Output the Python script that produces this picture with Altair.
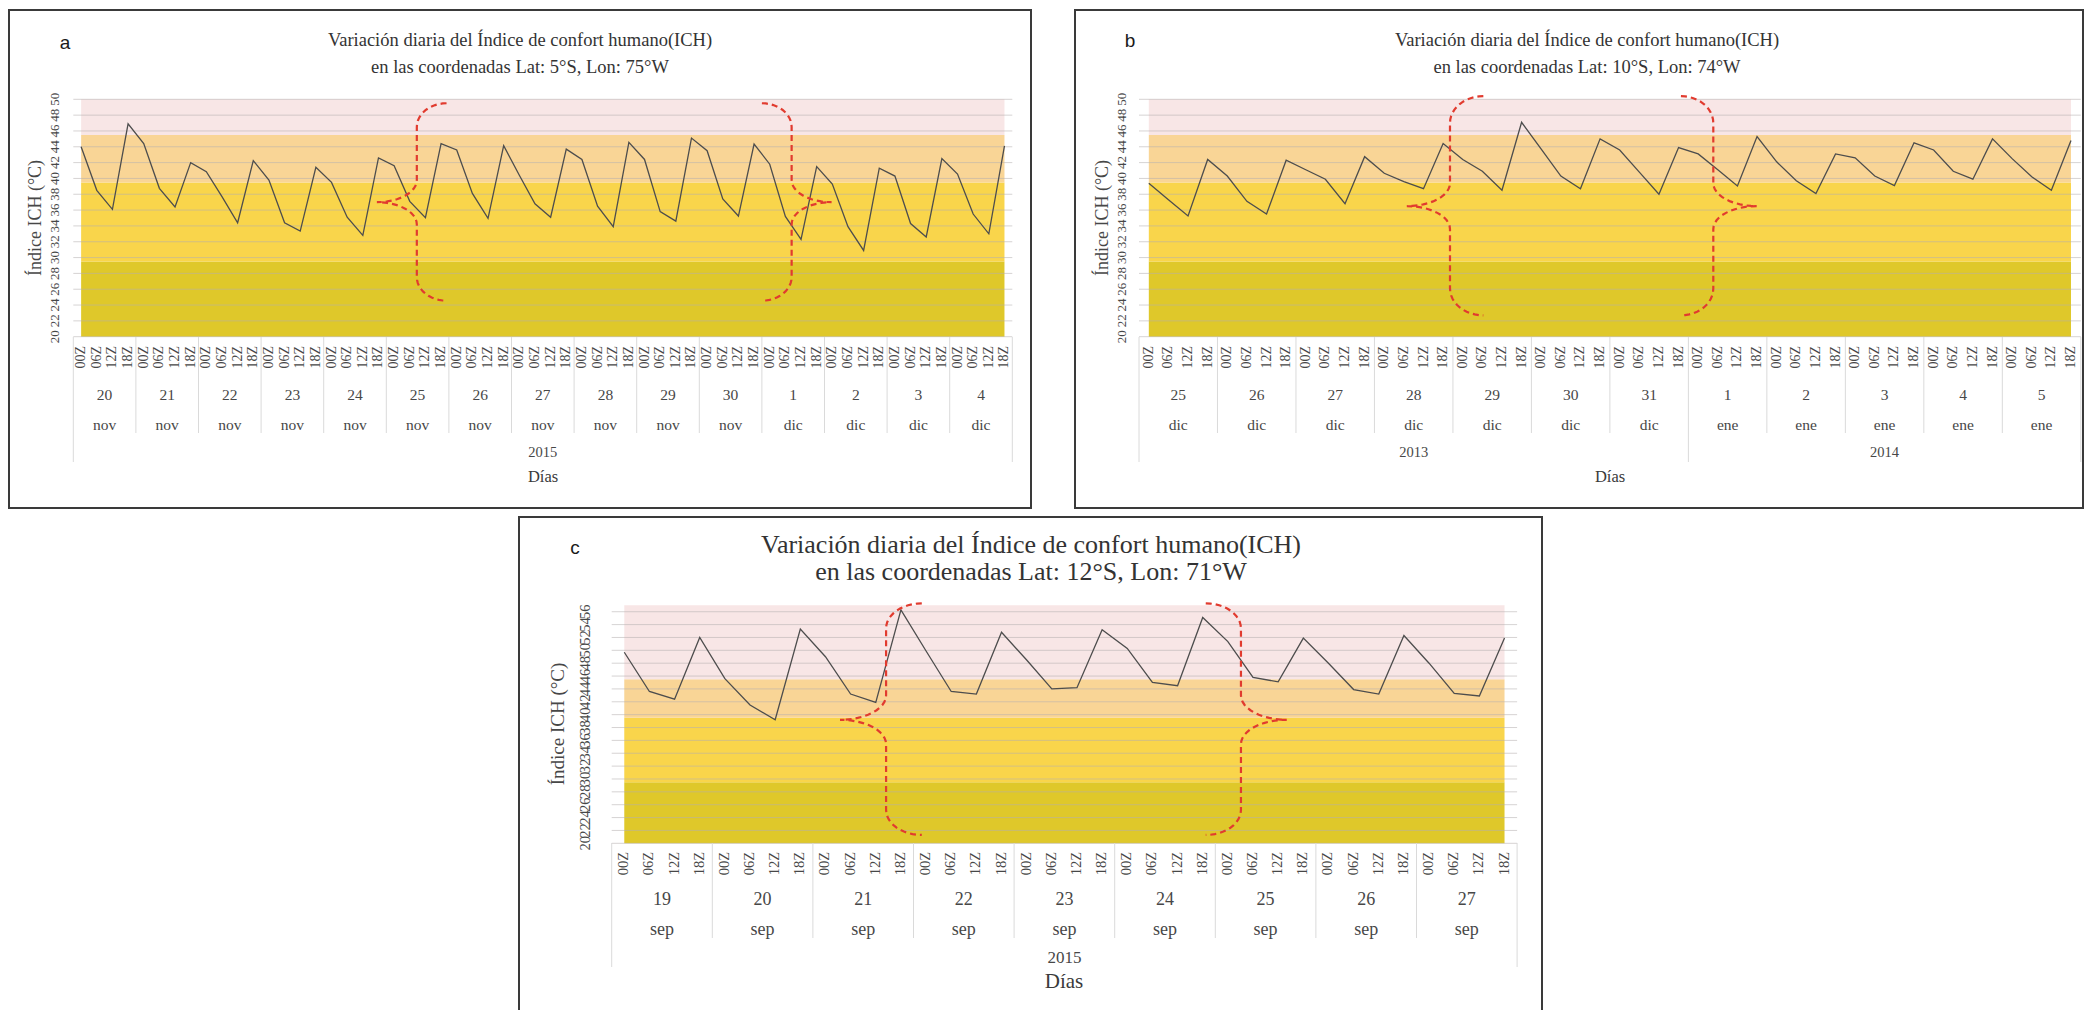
import math
import altair as alt
import pandas as pd

# ---------------------------------------------------------------------------
# Índice de confort humano (ICH, °C), four readings per day (00Z 06Z 12Z 18Z)
# ---------------------------------------------------------------------------
HOURS = ["00Z", "06Z", "12Z", "18Z"]

# a) Lat 5°S, Lon 75°W — 20 nov to 4 dic 2015
ich_a = [44.0, 38.5, 36.1, 46.9, 44.4, 38.75, 36.4, 42.0, 40.85, 37.7,
         34.4, 42.25, 39.8, 34.4, 33.35, 41.4, 39.5, 35.1, 32.8, 42.6,
         41.6, 37.1, 35.05, 44.4, 43.6, 38.1, 34.95, 44.15, 40.4, 36.8,
         35.1, 43.7, 42.4, 36.5, 33.9, 44.55, 42.4, 35.8, 34.6, 45.1,
         43.5, 37.4, 35.25, 44.35, 41.8, 35.2, 32.3, 41.5, 39.3, 33.9,
         30.9, 41.3, 40.3, 34.3, 32.6, 42.5, 40.55, 35.5, 33.0, 44.1]
days_a = ["20", "21", "22", "23", "24", "25", "26", "27", "28", "29", "30",
          "1", "2", "3", "4"]
months_a = ["nov"] * 11 + ["dic"] * 4
years_a = ["2015"] * 15

# b) Lat 10°S, Lon 74°W — 25 dic 2013 to 5 ene 2014
ich_b = [39.4, 37.3, 35.25, 42.4, 40.3, 37.1, 35.5, 42.3, 41.1, 39.9,
         36.8, 42.75, 40.65, 39.6, 38.7, 44.4, 42.4, 40.9, 38.5, 47.1,
         43.7, 40.3, 38.7, 45.0, 43.6, 40.8, 38.0, 43.9, 43.1, 41.1,
         39.05, 45.3, 42.1, 39.7, 38.1, 43.1, 42.6, 40.3, 39.1, 44.5,
         43.6, 40.9, 39.9, 45.0, 42.5, 40.2, 38.5, 44.8]
days_b = ["25", "26", "27", "28", "29", "30", "31", "1", "2", "3", "4", "5"]
months_b = ["dic"] * 7 + ["ene"] * 5
years_b = ["2013"] * 7 + ["2014"] * 5

# c) Lat 12°S, Lon 71°W — 19 to 27 sep 2015
ich_c = [49.7, 43.6, 42.4, 52.0, 45.6, 41.5, 39.2, 53.3, 49.0, 43.2,
         41.9, 56.3, 49.9, 43.6, 43.2, 52.8, 48.5, 44.0, 44.2, 53.2,
         50.3, 45.0, 44.5, 55.1, 51.35, 45.8, 45.1, 51.9, 48.0, 43.9,
         43.2, 52.3, 48.0, 43.3, 42.9, 51.9]
days_c = ["19", "20", "21", "22", "23", "24", "25", "26", "27"]
months_c = ["sep"] * 9
years_c = ["2015"] * 9

# comfort classes: lower bound of each shaded band and its fill
band_lo = [20, 29.5, 39.5, 45.5]
band_colors = ["#DFC82A", "#F9D54B", "#F9D596", "#F8E6E6"]

# curly-brace annotations (category index / ICH units):
# tip x, stem x, end x, top y, tip y, bottom y, end radius, tip radius
braces_a = [(18.9, 21.45, 23.35, 49.5, 37.0, 24.55, 3.0, 2.8),
            (47.95, 45.4, 43.5, 49.5, 37.0, 24.55, 3.0, 2.8)]
braces_b = [(13.15, 15.35, 17.05, 50.4, 36.5, 22.7, 3.4, 2.9),
            (30.98, 28.77, 27.12, 50.4, 36.5, 22.7, 3.4, 2.9)]
braces_c = [(8.58, 10.41, 11.83, 57.3, 39.2, 21.3, 3.9, 3.8),
            (26.34, 24.52, 23.12, 57.3, 39.2, 21.3, 3.9, 3.8)]

TITLE_1 = "Variación diaria del Índice de confort humano(ICH)"

SERIF = "Liberation Serif"
SANS = "Liberation Sans"
TXT = "#474747"
RED = "#E13B2F"


def brace_path(x_tip, x_mid, x_end, y_top, y_tip, y_bot, ry_end, ry_tip):
    """Points of a curly brace drawn from its anchors, top end to bottom end."""
    rx_end = x_end - x_mid
    rx_tip = x_mid - x_tip
    pts = []

    def arc(cx, cy, rx, ry, a0, a1, n=12):
        for k in range(n + 1):
            t = math.radians(a0 + (a1 - a0) * k / n)
            pts.append((cx + rx * math.cos(t), cy + ry * math.sin(t)))

    arc(x_end, y_top - ry_end, rx_end, ry_end, 90, 180)
    arc(x_tip, y_tip + ry_tip, rx_tip, ry_tip, 0, -90)
    arc(x_tip, y_tip - ry_tip, rx_tip, ry_tip, 90, 0)
    arc(x_end, y_bot + ry_end, rx_end, ry_end, 180, 270)
    return pts


def label(txt, x, y, size, font=SERIF, angle=0, color=TXT):
    return alt.Chart(pd.DataFrame({"t": [txt]})).mark_text(
        align="center", baseline="middle", font=font, fontSize=size,
        angle=angle, color=color
    ).encode(x=alt.value(x), y=alt.value(y), text="t:N")


def panel(p):
    vals = p["values"]
    n = len(vals)
    nd = n // 4
    xs = alt.Scale(domain=[-0.5, n - 0.5], range=p["xr"], nice=False, zero=False)
    ys = alt.Scale(domain=[20, p["ytop"]], range=p["yr"], nice=False, zero=False)

    def X(f):
        return alt.X(f, type="quantitative", scale=xs, axis=None)

    def Y(f):
        return alt.Y(f, type="quantitative", scale=ys, axis=None)

    out = []

    # frame around the whole panel
    out.append(alt.Chart(pd.DataFrame({"k": [0]})).mark_rect(
        fillOpacity=0, stroke="#3a3a3a", strokeWidth=2
    ).encode(x=alt.value(p["frame"][0]), x2=alt.value(p["frame"][1]),
             y=alt.value(p["frame"][2]), y2=alt.value(p["frame"][3])))

    # comfort bands
    hi = band_lo[1:] + [p["ytop"]]
    bands = pd.DataFrame({"x0": [0] * 4, "x1": [n - 1] * 4, "lo": band_lo,
                          "hi": hi, "col": band_colors})
    out.append(alt.Chart(bands).mark_rect().encode(
        x=X("x0"), x2="x1", y=Y("lo"), y2="hi",
        color=alt.Color("col:N", scale=None)))

    # horizontal gridlines
    ticks = list(range(20, int(p["ytop"]) + 1, 2))
    grid = pd.DataFrame({"x0": [-0.5] * len(ticks), "x1": [n - 0.5] * len(ticks),
                         "v": ticks})
    out.append(alt.Chart(grid).mark_rule(color="#B5AEAE", strokeWidth=1,
                                         opacity=0.55).encode(
        x=X("x0"), x2="x1", y=Y("v")))

    # ICH series
    ser = pd.DataFrame({"i": list(range(n)), "v": vals})
    out.append(alt.Chart(ser).mark_line(color="#4d4d4d", strokeWidth=1.3).encode(
        x=X("i"), y=Y("v")))

    # dashed braces
    rows = []
    for bid, b in enumerate(p["braces"]):
        for k, (bx, by) in enumerate(brace_path(*b)):
            rows.append({"bid": bid, "k": k, "bx": bx, "by": by})
    out.append(alt.Chart(pd.DataFrame(rows)).mark_line(
        color=RED, strokeWidth=2.2, strokeDash=[6, 4]
    ).encode(x=X("bx"), y=Y("by"), detail="bid:N", order="k:Q"))

    # y tick labels and title
    yt = pd.DataFrame({"v": ticks, "t": [str(t) for t in ticks]})
    out.append(alt.Chart(yt).mark_text(
        angle=270, align="center", baseline="middle", font=SERIF,
        fontSize=p["fs_ytick"], color=TXT
    ).encode(x=alt.value(p["x_ytick"]), y=Y("v"), text="t:N"))
    out.append(label("Índice ICH (°C)", p["x_ytitle"], p["y_ytitle"],
                     p["fs_ytitle"], angle=270))

    # hour labels
    hrs = pd.DataFrame({"i": list(range(n)), "h": HOURS * nd})
    out.append(alt.Chart(hrs).mark_text(
        angle=270, align="right", baseline="middle", font=SERIF,
        fontSize=p["fs_hour"], color=TXT
    ).encode(x=X("i"), y=alt.value(p["y_hour"]), text="h:N"))

    # day / month labels
    dd = pd.DataFrame({"c": [4 * d + 1.5 for d in range(nd)],
                       "day": p["days"], "mon": p["months"]})
    out.append(alt.Chart(dd).mark_text(
        baseline="middle", font=SERIF, fontSize=p["fs_day"], color=TXT
    ).encode(x=X("c"), y=alt.value(p["y_day"]), text="day:N"))
    out.append(alt.Chart(dd).mark_text(
        baseline="middle", font=SERIF, fontSize=p["fs_day"], color=TXT
    ).encode(x=X("c"), y=alt.value(p["y_mon"]), text="mon:N"))

    # day separators and year groups
    yrs = p["years"]
    bounds = [0] + [d for d in range(1, nd) if yrs[d] != yrs[d - 1]] + [nd]
    short = pd.DataFrame({"s": [4 * d - 0.5 for d in range(1, nd) if d not in bounds]})
    long_ = pd.DataFrame({"s": [4 * d - 0.5 for d in bounds]})
    out.append(alt.Chart(short).mark_rule(color="#DADADA", strokeWidth=1).encode(
        x=X("s"), y=alt.value(p["y_axis"]), y2=alt.value(p["y_sep"])))
    out.append(alt.Chart(long_).mark_rule(color="#DADADA", strokeWidth=1).encode(
        x=X("s"), y=alt.value(p["y_axis"]), y2=alt.value(p["y_sep_long"])))
    yg = pd.DataFrame({
        "c": [2 * (bounds[k] + bounds[k + 1]) - 0.5 for k in range(len(bounds) - 1)],
        "y": [yrs[bounds[k]] for k in range(len(bounds) - 1)]})
    out.append(alt.Chart(yg).mark_text(
        baseline="middle", font=SERIF, fontSize=p["fs_year"], color=TXT
    ).encode(x=X("c"), y=alt.value(p["y_year"]), text="y:N"))

    # x title, chart title, panel letter
    out.append(label("Días", p["x_dias"], p["y_dias"], p["fs_dias"], color="#3a3a3a"))
    out.append(label(TITLE_1, p["x_title"], p["y_title"][0], p["fs_title"], color="#333333"))
    out.append(label(p["subtitle"], p["x_title"], p["y_title"][1], p["fs_title"], color="#333333"))
    out.append(label(p["letter"], p["letter_xy"][0], p["letter_xy"][1], 19,
                     font=SANS, color="#1a1a1a"))
    return out


top_common = dict(yr=[336.7, 99.3], ytop=50, y_axis=337, y_hour=346, y_day=395,
                  y_mon=425, y_year=453, y_dias=477, y_sep=433, y_sep_long=462,
                  y_ytitle=218, y_title=(40, 67), fs_title=18.5, fs_ytick=13,
                  fs_ytitle=18, fs_hour=14, fs_day=15.5, fs_year=14.5, fs_dias=16.5)

panel_a = dict(top_common, values=ich_a, days=days_a, months=months_a, years=years_a,
               braces=braces_a, xr=[73.3, 1012.3], x_ytick=55, x_ytitle=36,
               x_dias=543, x_title=520, letter="a", letter_xy=(65, 43),
               subtitle="en las coordenadas Lat: 5°S, Lon: 75°W",
               frame=(9, 1031, 10, 508))

panel_b = dict(top_common, values=ich_b, days=days_b, months=months_b, years=years_b,
               braces=braces_b, xr=[1139.0, 2080.8], x_ytick=1122, x_ytitle=1103,
               x_dias=1610, x_title=1587, letter="b", letter_xy=(1130, 41),
               subtitle="en las coordenadas Lat: 10°S, Lon: 74°W",
               frame=(1075, 2083, 10, 508))

panel_c = dict(values=ich_c, days=days_c, months=months_c, years=years_c,
               braces=braces_c, xr=[611.7, 1517.1], yr=[843.3, 605.3], ytop=57,
               y_axis=843, y_hour=852, y_day=900, y_mon=930, y_year=958, y_dias=982,
               y_sep=938, y_sep_long=967, y_ytitle=724, y_title=(545, 572),
               fs_title=26, fs_ytick=14.5, fs_ytitle=19, fs_hour=14.5, fs_day=18,
               fs_year=17, fs_dias=21, x_ytick=586, x_ytitle=558, x_dias=1064,
               x_title=1031, letter="c", letter_xy=(575, 548),
               subtitle="en las coordenadas Lat: 12°S, Lon: 71°W",
               frame=(519, 1542, 517, 1015))

layers = panel(panel_a) + panel(panel_b) + panel(panel_c)

chart = alt.layer(*layers).properties(
    width=2084, height=1010, padding=0,
    autosize=alt.AutoSizeParams(type="none"), background="white"
).resolve_scale(x="independent", y="independent").configure_view(stroke=None)

chart.save("out.html", embed_options={"renderer": "svg", "actions": False})
